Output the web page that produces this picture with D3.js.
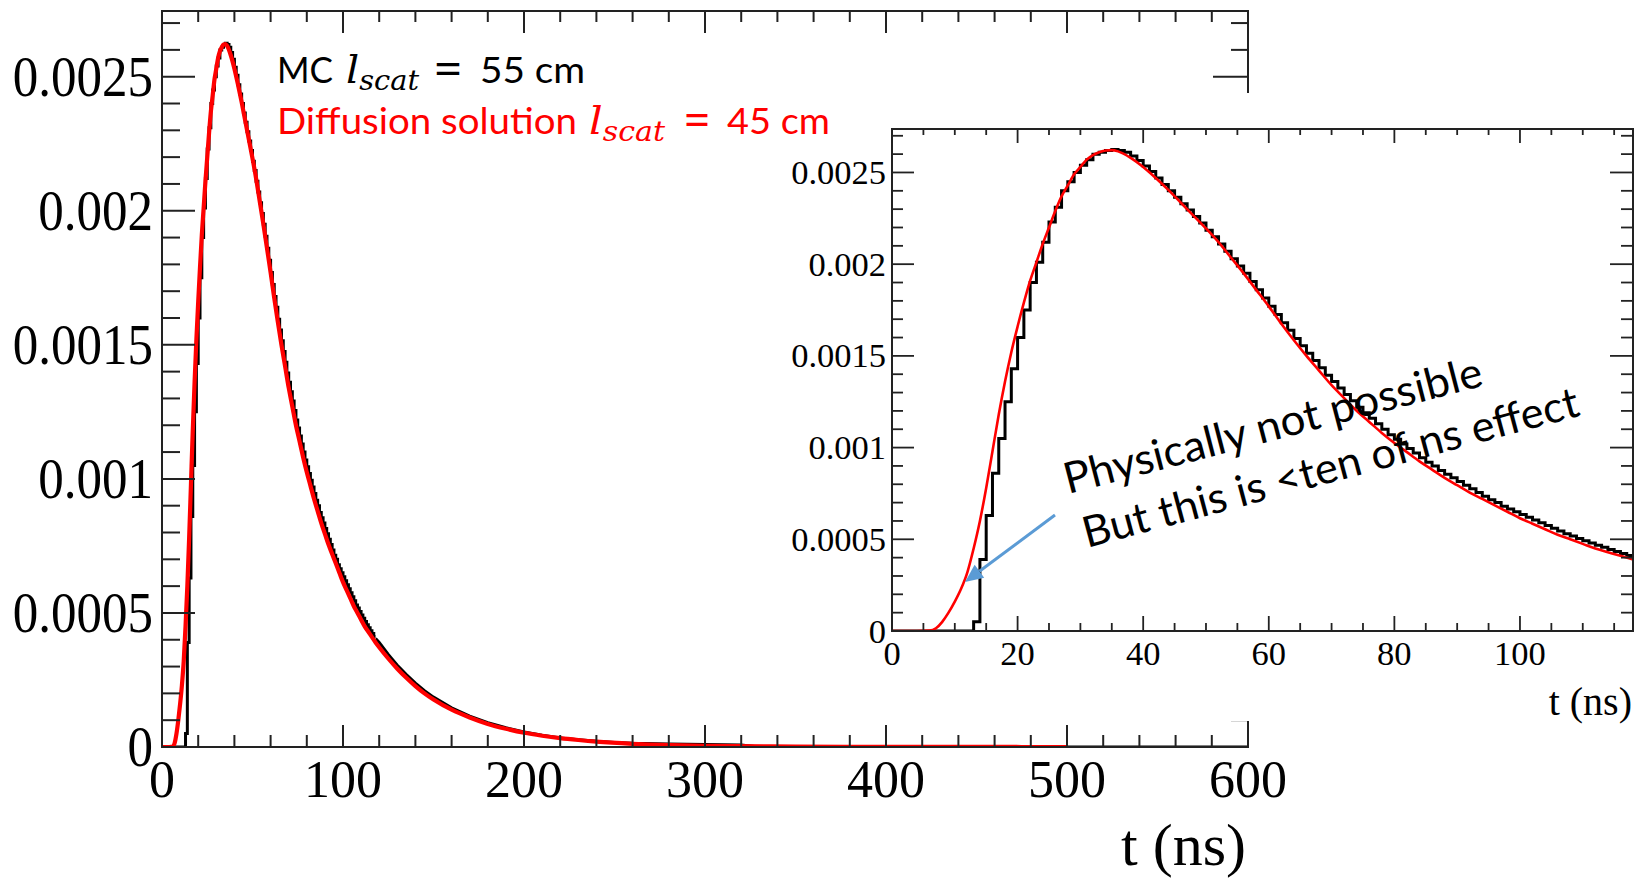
<!DOCTYPE html>
<html><head><meta charset="utf-8">
<script src="https://cdn.jsdelivr.net/npm/d3@7"></script>
<style>body{margin:0;background:#fff}svg{display:block}</style>
</head><body>
<svg id="c" width="1639" height="879"></svg>
<script>
// ---------------- DATA (values in units of 1e-4) ----------------
// MC histogram, 1 ns bins starting at t = 0
const mcValues = [0,0,0,0,0,0,0,0,0,0,0,0,0,
 0.5,3.9,6.3,8.6,10.5,12.5,14.3,16.0,17.5,19.0,20.1,21.2,22.3,23.1,24.0,24.5,25.0,25.4,25.7,26.0,26.1,26.2,26.25,26.2,26.1,
 25.9,25.65,25.35,25.05,24.7,24.35,24.0,23.65,23.3,22.95,22.6,22.25,21.85,21.5,21.1,20.7,20.3,19.9,19.5,19.05,18.6,18.15,
 17.7,17.25,16.8,16.4,15.95,15.55,15.15,14.75,14.35,13.95,13.6,13.25,12.9,12.55,12.2,11.9,11.6,11.3,11.0,10.7,
 10.45,10.2,9.95,9.7,9.45,9.2,9.0,8.75,8.55,8.35,8.15,7.95,7.75,7.55,7.35,7.15,7.0,6.8,6.65,6.5,
 6.35,6.2,6.05,5.9,5.75,5.6,5.45,5.3,5.18,5.05,4.92,4.8,4.68,4.56,4.45,4.34,4.23,4.12];
// MC tail beyond the inset range
const mcTailT = [118,120,125,130,135,140,145,150,160,170,180,190,200,210,220,230,240,250,260,280,300,320,330,600];
const mcTailV = [4.05,3.9,3.45,3.05,2.7,2.38,2.1,1.86,1.46,1.15,0.91,0.72,0.56,0.44,0.34,0.27,0.21,0.17,0.14,0.11,0.09,0.07,0,0];
// Diffusion solution
const diffT = [0,2,4,6,7,8,9,10,11,12,13,14,15,16,17,18,19,20,21,22,23,24,25,26,27,28,29,30,31,32,33,34,35,36,
 38,40,42,44,46,48,50,52,54,56,58,60,62,64,66,68,70,72,74,76,78,80,82,84,86,88,90,92,94,96,98,100,102,104,106,108,110,112,114,116,118,
 120,125,130,135,140,145,150,160,170,180,190,200,210,220,230,240,260,280,300,350,400,450,500];
const diffV = [0,0,0,0.02,0.15,0.5,1.0,1.6,2.3,3.2,4.5,6.0,7.8,9.8,11.8,13.6,15.2,16.6,17.9,19.1,20.1,21.1,22.0,22.9,23.7,24.3,24.9,25.3,25.7,25.95,26.1,26.2,26.22,26.15,
 25.8,25.3,24.7,24.05,23.35,22.65,21.95,21.2,20.35,19.5,18.6,17.7,16.75,15.85,15.0,14.2,13.4,12.7,12.0,11.4,10.8,10.25,9.75,9.25,8.8,8.35,7.95,7.55,7.2,6.85,6.5,6.15,5.85,5.55,5.25,5.0,4.75,4.5,4.3,4.1,3.9,
 3.72,3.3,2.92,2.58,2.27,2.0,1.77,1.39,1.1,0.86,0.68,0.53,0.42,0.33,0.26,0.2,0.12,0.07,0.045,0.015,0.005,0.002,0];
// ticks
const mainXTicks = [0,100,200,300,400,500,600];
const mainXLabels = ["0","100","200","300","400","500","600"];
const yTicks = [0,5,10,15,20,25];
const yLabels = ["0","0.0005","0.001","0.0015","0.002","0.0025"];
const insetXTicks = [0,20,40,60,80,100];
const insetXLabels = ["0","20","40","60","80","100"];
const axisTitle = "t (ns)";

// ---------------- DRAWING ----------------
const svg = d3.select('#c');
const serif = "'Liberation Serif','Times New Roman',serif";
const sans = "Lato,'Noto Sans',sans-serif";
const mathF = "'DejaVu Serif',serif";

const bins = mcValues.map((v,i)=>({t:i, v:v}));
bins.push({t:mcValues.length, v:mcValues[mcValues.length-1]});
const tail = mcTailT.map((t,i)=>({t:t, v:mcTailV[i]}));
const diff = diffT.map((t,i)=>({t:t, v:diffV[i]}));

function isMajor(v, step){ return Math.abs(v/step - Math.round(v/step)) < 1e-6; }

function drawPanel(g, x, y, o){
  const [xa,xb] = x.range(), [ya,yb] = y.range();
  g.append('clipPath').attr('id',o.id).append('rect')
    .attr('x',xa).attr('y',yb).attr('width',xb-xa).attr('height',ya-yb);
  const cg = g.append('g').attr('clip-path',`url(#${o.id})`);
  cg.append('path').datum(bins)
    .attr('d', d3.line().x(d=>x(d.t)).y(d=>y(d.v)).curve(d3.curveStepAfter))
    .attr('fill','none').attr('stroke','#000').attr('stroke-width',o.bw);
  if (o.tail) {
    cg.append('path').datum(tail)
      .attr('d', d3.line().x(d=>x(d.t)).y(d=>y(d.v)))
      .attr('fill','none').attr('stroke','#000').attr('stroke-width',o.bw);
  }
  cg.append('path').datum(diff.filter(d=>d.t<=o.redMax))
    .attr('d', d3.line().x(d=>x(d.t)).y(d=>y(d.v)).curve(d3.curveMonotoneX))
    .attr('fill','none').attr('stroke','#ff0000').attr('stroke-width',o.rw);
  g.append('rect').attr('x',xa).attr('y',yb).attr('width',xb-xa).attr('height',ya-yb)
    .attr('fill','none').attr('stroke','#222').attr('stroke-width',o.fw);
  const tk = g.append('g').attr('stroke','#222').attr('stroke-width',o.tw);
  const dom = x.domain();
  d3.range(dom[0], dom[1]+1e-6, o.xMinor).forEach(v=>{
    const maj = isMajor(v, o.xMajor), X = x(v);
    tk.append('line').attr('x1',X).attr('x2',X).attr('y1',ya).attr('y2',ya-(maj?o.bot[0]:o.bot[1]));
    tk.append('line').attr('x1',X).attr('x2',X).attr('y1',yb).attr('y2',yb+(maj?o.top[0]:o.top[1]));
  });
  const ydom = y.domain();
  d3.range(ydom[0], ydom[1]+1e-6, 1).forEach(v=>{
    const maj = isMajor(v, 5), Y = y(v);
    tk.append('line').attr('y1',Y).attr('y2',Y).attr('x1',xa).attr('x2',xa+(maj?o.lef[0]:o.lef[1]));
    tk.append('line').attr('y1',Y).attr('y2',Y).attr('x1',xb).attr('x2',xb-(maj?o.rig[0]:o.rig[1]));
  });
  o.xTicks.forEach((v,i)=>{
    g.append('text').attr('x',x(v)).attr('y',o.xLabY).attr('text-anchor','middle')
      .attr('font-family',serif).attr('font-size',o.xfs).attr('fill','#000').text(o.xLabels[i]);
  });
  yTicks.forEach((v,i)=>{
    g.append('text').attr('transform',`translate(${xa-o.yGap},${y(v)+o.yOff}) scale(1,${o.ysy})`)
      .attr('text-anchor','end').attr('font-family',serif).attr('font-size',o.yfs).attr('fill','#000').text(yLabels[i]);
  });
  g.append('text').attr('x',o.titleX).attr('y',o.titleY).attr('text-anchor','end')
    .attr('font-family',serif).attr('font-size',o.titleFs).attr('fill','#000').text(axisTitle);
}

// main panel
const xMain = d3.scaleLinear().domain([0,600]).range([162,1248]);
const yMain = d3.scaleLinear().domain([0,27.45]).range([747,11]);
drawPanel(svg.append('g'), xMain, yMain, {
  id:'clipMain', bw:3, rw:4.2, fw:2, tw:2, tail:true, redMax:500,
  xMinor:20, xMajor:100, bot:[22,12], top:[22,11], lef:[33,18], rig:[35,17],
  xTicks:mainXTicks, xLabels:mainXLabels, xLabY:797, xfs:52,
  yGap:9, yOff:19, ysy:1.1, yfs:51,
  titleX:1246, titleY:865, titleFs:60
});

// white background of the inset picture
svg.append('rect').attr('x',770).attr('y',93).attr('width',869).attr('height',628).attr('fill','#fff');

// inset panel
const xIn = d3.scaleLinear().domain([0,118]).range([892,1633]);
const yIn = d3.scaleLinear().domain([0,27.37]).range([631,129]);
drawPanel(svg.append('g'), xIn, yIn, {
  id:'clipIn', bw:3, rw:2.6, fw:2, tw:1.8, tail:false, redMax:118,
  xMinor:5, xMajor:20, bot:[15,8], top:[14,6], lef:[22,11], rig:[23,12],
  xTicks:insetXTicks, xLabels:insetXLabels, xLabY:665, xfs:34.5,
  yGap:6, yOff:11.5, ysy:1.0, yfs:34.5,
  titleX:1632, titleY:715, titleFs:40
});

// legend
const leg = svg.append('g');
function txt(s, x, y, fam, fs, col, len){
  const t = leg.append('text').attr('x',x).attr('y',y).attr('font-family',fam).attr('font-size',fs)
    .attr('fill',col).text(s);
  if (len) t.attr('textLength',len).attr('lengthAdjust','spacingAndGlyphs');
  return t;
}
function mathL(x, y, col, len){
  const t = leg.append('text').attr('x',x).attr('y',y).attr('font-family',mathF)
    .attr('font-style','italic').attr('fill',col)
    .attr('textLength',len).attr('lengthAdjust','spacingAndGlyphs');
  t.append('tspan').attr('font-size',40).text('l');
  t.append('tspan').attr('font-size',28).attr('dy',7).text('scat');
}
txt("MC", 277, 83, sans, 37, '#000', 56);
mathL(346, 83, '#000', 73);
txt("=", 433, 83, mathF, 42, '#000', 30);
txt("55 cm", 480, 83, sans, 37, '#000', 105);
txt("Diffusion solution", 277, 134, sans, 37, '#ff0000', 300);
mathL(589, 134, '#ff0000', 76);
txt("=", 683, 134, mathF, 42, '#ff0000', 28);
txt("45 cm", 727, 134, sans, 37, '#ff0000', 103);

// annotation
const an = svg.append('g');
an.append('text').attr('transform','translate(1068,494) rotate(-14.6)')
  .attr('font-family',sans).attr('font-size',43).attr('fill','#000')
  .attr('textLength',431).attr('lengthAdjust','spacingAndGlyphs').text("Physically not possible");
an.append('text').attr('transform','translate(1087,548) rotate(-15)')
  .attr('font-family',sans).attr('font-size',43).attr('fill','#000')
  .attr('textLength',512).attr('lengthAdjust','spacingAndGlyphs').text("But this is <ten of ns effect");
const a0=[1055,515], a1=[965,582];
const dx=a1[0]-a0[0], dy=a1[1]-a0[1], L=Math.hypot(dx,dy), ux=dx/L, uy=dy/L;
const hl=18, hw=8, bx=a1[0]-ux*hl, by=a1[1]-uy*hl;
an.append('line').attr('x1',a0[0]).attr('y1',a0[1]).attr('x2',bx).attr('y2',by)
  .attr('stroke','#5b9bd5').attr('stroke-width',3);
an.append('path').attr('d',`M${a1[0]},${a1[1]}L${bx-uy*hw},${by+ux*hw}L${bx+uy*hw},${by-ux*hw}Z`)
  .attr('fill','#5b9bd5');
</script>
</body></html>
